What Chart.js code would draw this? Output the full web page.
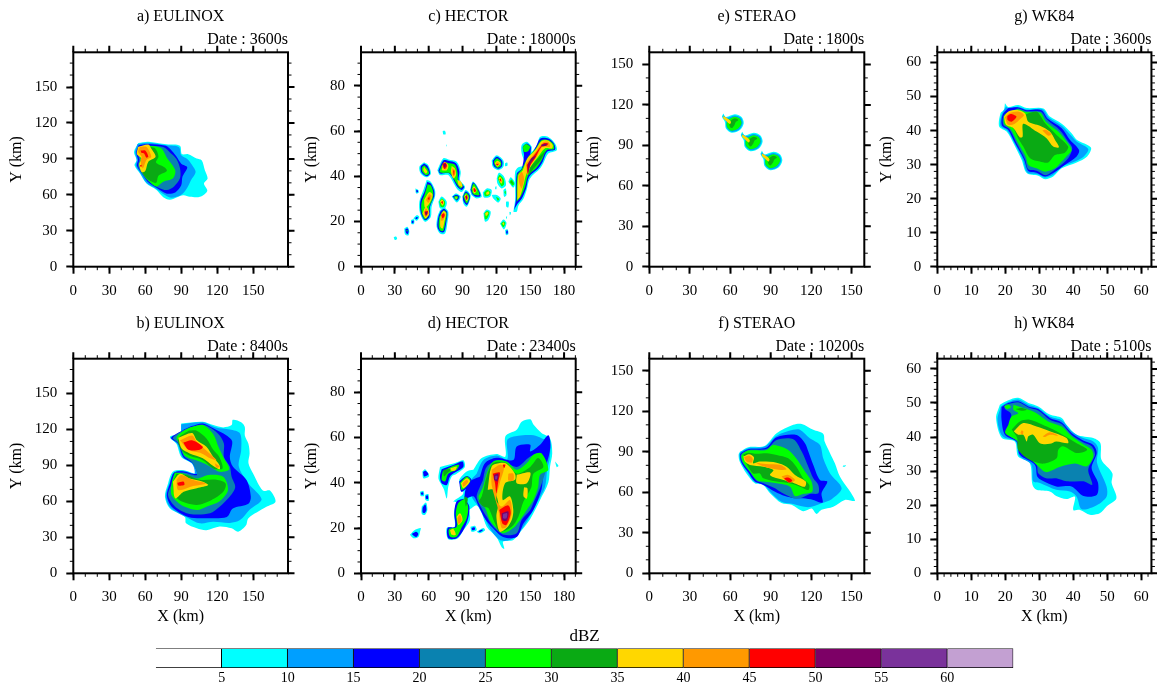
<!DOCTYPE html>
<html>
<head>
<meta charset="utf-8">
<title>Simulated reflectivity</title>
<script src="https://cdn.jsdelivr.net/npm/chart.js@4/dist/chart.umd.min.js"></script>
<style>
  html, body { margin: 0; padding: 0; background: #fff; width: 1157px; height: 686px; overflow: hidden; }
  canvas { position: absolute; display: block; }
</style>
</head>
<body>
<script>
  // Reflectivity classes
  var dbzLevels = [5, 10, 15, 20, 25, 30, 35, 40, 45, 50, 55, 60];
  var binColors = ["#ffffff", "#00ffff", "#009fff", "#0000ff", "#0a82b0", "#00ff00", "#0aaa14",
    "#ffd700", "#ff9900", "#ff0000", "#7d0066", "#7a329b", "#c3a0d2"];
  var binWidths = [5, 5, 5, 5, 5, 5, 5, 5, 5, 5, 5, 5, 5];

  var panelTitles = ["a) EULINOX", "b) EULINOX", "c) HECTOR", "d) HECTOR", "e) STERAO", "f) STERAO", "g) WK84", "h) WK84"];
  var panelDates = ["3600s", "8400s", "18000s", "23400s", "1800s", "10200s", "3600s", "5100s"];

  var ticksEulinox = [0, 30, 60, 90, 120, 150];
  var ticksHectorX = [0, 30, 60, 90, 120, 150, 180];
  var ticksHectorY = [0, 20, 40, 60, 80];
  var ticksSterao = [0, 30, 60, 90, 120, 150];
  var ticksWk84 = [0, 10, 20, 30, 40, 50, 60];

  // Contours: [lower dBZ bound, [x, y, x, y, ...]] in km
  var panelA = [
    [5, [54.2,103.3, 62.5,104.4, 77.8,102.2, 88.9,101, 90.5,94, 95.8,93.9, 102.8,90.3, 107,88.9, 109.7,80.6, 112,73.6, 108.9,69.4, 111.7,63.3, 105.6,58.3, 97.2,58.3, 91.7,59.7, 80.6,56, 75,58, 69.4,64, 61,69.4, 55.6,77.8, 51,84.7, 52.8,88.9, 50.6,95.8]],
    [10, [53.5,102.5, 62,103.5, 77.8,101.5, 88,100, 90,93, 95,90, 99,85, 102,79, 98,72, 95,66, 90,60, 82,57.5, 76,60, 69,65, 61,70, 56,78, 52,84.5, 53,89, 51.5,95.5]],
    [15, [54.5,101.5, 62,102.5, 77,101, 81,98, 86,92, 90,86, 95,83, 91,75, 90,68, 85,62, 78,61, 70,65.5, 62,71, 57,78, 53,84.5, 54,89, 52.5,95.5]],
    [20, [55,100.5, 62,101, 75,100, 81,95, 86,90, 89,82, 89,74, 84,67, 78,64, 71,66, 62,72, 57,78, 54,84.5, 55,89, 53.5,95.5]],
    [25, [56,100, 62,101, 73,99, 78,91, 85,80.5, 83,73.6, 75,71, 69,67, 62,72.5, 58,78, 55,85, 56,89, 55,95]],
    [30, [56.5,99.5, 62,100, 68,99, 71,92, 69,87, 76,83, 78,80, 71,76, 69,70, 62,73, 58,78, 56,85, 57,89, 56,95]],
    [35, [54,100, 62.5,102, 65,98.6, 68.6,91.7, 62.5,87.5, 60,80, 57,79, 55,86, 57,90, 53,94]],
    [40, [55.5,100, 61,100, 65,91.7, 61,89, 58,82, 56,89, 57,91.7, 54,96]],
    [45, [56,97, 60,97, 62.5,92, 61,91, 59,94.5, 57,95]],
    [45, [55.6,84.7, 57,85, 56.5,83]]
  ];

  var panelB = [
    [5, [90,125, 108,126.4, 116.7,123.6, 125,121.7, 132,123.6, 133,128, 140,126, 143,122, 143,115, 146,108, 147,100, 146,92, 150,83, 158,69, 164,69, 168.6,59.7, 161,55.5, 146,46, 144,40, 137.5,34.7, 132,37.5, 122,39, 111,36, 103,37.5, 94,41.7, 93,47, 80.6,54, 76.4,64, 79,75, 83,84.7, 92,86, 103,83, 98.6,91.7, 90,97, 86,108, 80.6,114, 89,116.7]],
    [10, [90,124.4, 108,126, 119,121.7, 130.5,120, 139,116.7, 140,103, 138,89, 146,75, 157,61.7, 147,53, 139,44.4, 130.5,42, 116.7,43, 105.5,41.7, 96,46, 81,54.7, 77,64.4, 80,75, 84,84, 92,85.5, 101,83, 99,91.7, 91,97, 86.7,108, 81,113, 89,116]],
    [15, [98.6,122.8, 108,125, 116.7,121, 127.8,115, 132.5,110, 130.5,97, 133,89, 144.4,77.8, 148,64, 146,58, 133,54, 128,47, 111,46, 96,47, 82,55.5, 78,65, 80.6,75, 84,84, 92,85, 103,83, 99.4,91.7, 91.7,97, 87.5,108, 81.6,113, 90.7,119]],
    [20, [99,122, 108,124, 115,121, 122,115, 125.6,108, 125.6,97, 130.5,89, 132,80.5, 135,72, 130.5,64, 122,55.5, 114,50, 97,49.5, 85,55.5, 79,65, 82,75, 84.7,83, 92,84, 103,82, 99.4,92, 92,98, 88,108, 83,113, 92,119.4]],
    [25, [97,121.7, 108,123.6, 116.7,116, 121,105.5, 125,97, 130,86.7, 122,84.7, 112.5,90, 103,94, 93,98, 89,108, 86,113, 90.7,118]],
    [25, [84.7,84, 92,83, 103,79, 112.5,82, 125,80.5, 129,69.4, 122,60, 111,55.5, 103,52.8, 90,57, 82,65, 82,75]],
    [30, [96,119, 103,119, 111,112.5, 116.7,103, 121.7,97, 124.4,87.5, 116.7,87.5, 108,94.4, 97,98, 90,103, 87.5,112.5]],
    [30, [86,83, 94.4,82, 105.5,78, 119.4,78, 127,75, 125,68, 115,61, 103,57, 90,60, 84.7,65, 83,75]],
    [35, [87.5,113, 99,117, 103,111, 111,105.5, 116.7,97, 122,90, 122,86.7, 116.7,89.4, 108,96, 97,100, 90.3,104]],
    [35, [83,76.4, 89,83, 97,79, 108,76.4, 112.5,73.6, 103,71, 92,68, 85,62.5]],
    [40, [89,111, 99,115, 103,109.7, 112.5,101, 119.4,94.4, 114,96, 107,100, 96,103]],
    [40, [118,91.7, 122,89, 119.4,88]],
    [40, [86,77.8, 90,82, 100,77.8, 110.5,75, 100,72.8, 87.5,69.4]],
    [45, [91.7,109, 99,111, 108,105.5, 105.5,103, 96,103]],
    [45, [86.7,75.5, 92,76.4, 92.5,73.6, 87.5,73.3]]
  ];

  var panelC = [
    // north-east line
    [5, [135,24.3, 136.6,29.5, 136.6,33.9, 136.6,42, 139.5,44, 145.4,45, 142.4,50, 142.4,53.8, 147,55.2, 151.3,53, 151.3,50.8, 156,53.8, 158.7,57.4, 166,57.4, 172,54.5, 173.5,51.5, 166,50, 161.6,45.7, 158.7,43.4, 149.8,39, 146.8,33.9, 144,30, 139.5,27, 138,24.3]],
    [15, [135.6,25, 137.3,29.5, 138,41, 142.4,43.4, 144.5,49.3, 143.4,53, 147,54.5, 150.4,53, 150.4,49.3, 155,53, 159,56.7, 166,56.7, 171,54.5, 172,51.8, 165,50.8, 161,46.4, 157,43.4, 149,39.8, 146.3,34.6, 142.4,30, 138.6,27.7]],
    [25, [138,28.7, 138.6,40.5, 142.4,43, 148.3,48.6, 155,52.3, 160,56, 166,56, 170.5,54.2, 171,52, 164.6,51.5, 160,47, 155,43.4, 148.3,40.5, 145.4,35.3, 141.6,31]],
    [25, [143.4,53, 146.3,54.2, 149.8,53, 148.3,51.2, 144.5,50.8]],
    [30, [150,44, 163,51, 159,47, 153,43.4, 149,40.5]],
    [35, [138.6,29.5, 139.5,40.5, 143.4,42.7, 147.5,47.9, 154.3,51.5, 160,55.5, 166,55.7, 169.9,53.8, 169.3,52.3, 163,52.3, 157,48.6, 151.3,45, 146.8,41.2, 144,36, 141,31]],
    [40, [139.5,39.8, 142.4,42, 144.5,39, 142.4,34.6, 140.4,36.8]],
    [40, [146.3,45.7, 154.3,50.4, 161,54.8, 166,55.2, 167.5,53, 161,53, 155.7,48.6, 149.8,44.2, 147.5,40.5]],
    [45, [146.9,45, 154.3,49.8, 161.6,54.5, 166,54.5, 164.6,53.5, 160,53, 154.3,47.9, 149.8,44.5, 148,41]],
    [50, [148,45.4, 151,47.9, 155,48.9, 150.4,45.7, 148,41.5]],
    [50, [160,54, 164.6,54.5, 164,53.6, 160,53.3]],
    // column near x = 57
    [5, [58.2,38.3, 61.8,37.6, 65.6,33.9, 65.6,31, 62.6,26.5, 61.8,22, 56.7,19.9, 52.3,23.6, 51.7,28.7, 55.3,33.9]],
    [15, [58.8,37.6, 61.8,36.8, 64.8,33.6, 64.8,31, 61.2,26.5, 60.6,22, 56.7,20.6, 53.2,23.6, 52.6,28.7, 56.1,33]],
    [25, [59,36.5, 61.8,36, 64,33, 63.5,30, 60.6,26.5, 60,22.8, 56.7,21, 54,23.6, 53.5,28, 56.7,32.4]],
    [35, [55.9,29.5, 60.6,33, 63.5,31.7, 60.6,28, 56.7,26.2]],
    [35, [54.5,23.6, 57.6,26.5, 60.6,23.6, 57.3,21.4]],
    [40, [57.6,29.5, 60.6,32, 62.6,31.2, 59.7,28.3]],
    [40, [55.6,23.6, 57.6,25.8, 60,23.6, 57.3,22]],
    [45, [59,29.9, 60.6,31, 60.6,29.5]],
    [45, [56.4,24.3, 59.4,24.6, 57.6,22.4]],
    [50, [56.7,24.3, 59,24, 57.6,22.7]],
    // cell near (57, 43)
    [5, [55.9,46.2, 59.7,44.9, 62,41.2, 58.2,39.5, 52.9,41.2, 51.7,44.2]],
    [15, [55.9,45.6, 59,44.5, 61.2,41.2, 58.2,40, 53.8,41.5, 52.9,44.2]],
    [25, [56.1,44.9, 58.8,43.4, 60.3,41.2, 57.6,40.5, 54.4,42, 54,43.9]],
    [35, [55.9,44.2, 58.8,42, 57.6,41.2, 55.3,42.7]],
    // group near (78, 43)
    [5, [67.7,42.7, 73,47.9, 77.4,47.4, 84.8,46.4, 88.4,42, 87.8,38.3, 92.2,35.3, 89.2,33, 84.8,34.6, 77.4,40.5, 70,40.5]],
    [15, [68.6,42.4, 73,47, 77.4,46.8, 84.2,45.7, 87.2,42, 86.6,38.3, 91.3,35.3, 89.2,33.9, 85.4,35.3, 78.3,41.2, 70,41.2]],
    [25, [69.4,42, 73,45.9, 78.9,45.7, 83.6,44.9, 85.7,41.2, 86,38.3, 90.2,36, 88.4,34.6, 84.8,36.8, 78.9,41.2, 71.5,41.5]],
    [35, [71.5,42.7, 73.9,46.4, 77.4,44.9, 76,42.7]],
    [35, [80.4,44.5, 83.3,43.4, 84.2,40.5, 81.9,39, 79.8,42]],
    [35, [85.4,38.3, 88.7,37.6, 89.8,35.3, 86.6,36]],
    [40, [71.5,44.2, 73.9,46, 76.5,44.6, 75,43]],
    [40, [81,43.4, 83.3,42.7, 83,40.5, 81.3,40.5]],
    [45, [72.1,45.4, 75,46, 76.2,44.5, 73.9,43.2]],
    [45, [81.6,42.7, 82.7,42.4, 82.4,40]],
    [50, [73,45.4, 75.4,45.4, 74.2,43.8]],
    // chain of small cells
    [5, [80.4,31, 84.2,32.4, 88.4,31, 85,28.4]],
    [15, [81.3,31, 84.2,31.8, 87.2,31, 85,29.2]],
    [25, [82.2,30.8, 84.2,31.4, 86.3,30.8, 84.5,29.6]],
    [35, [83.3,30.6, 85.4,30.6, 84.2,30]],
    [5, [89.8,31, 92.8,33.9, 97.2,31.7, 96,28.7, 93.7,26.5, 90.7,28]],
    [15, [90.2,31, 92.9,33.3, 96.6,31.4, 95.3,28.5, 93.7,27.3, 90.9,28.9]],
    [25, [90.7,31, 93,32.7, 96,31, 93.7,28]],
    [35, [91.6,31, 93,32, 95.2,30.6, 93.7,29]],
    [45, [92.2,31, 93.7,31.7, 94.6,30.5, 93.4,29.5]],
    [50, [92.8,31, 94,31, 93.4,30]],
    [5, [96.6,33.9, 99,37.6, 102.5,36, 107,31, 102.5,30.2, 98,31.7]],
    [15, [97.2,34, 99.3,37.2, 102.2,35.8, 106,31.4, 102,30.9, 98.7,32]],
    [25, [97.8,34.2, 99.6,36.8, 102,35.6, 105,31.7, 99.6,32]],
    [35, [98.7,34.6, 100.2,35.6, 102.5,33.6, 100.2,32.4]],
    [45, [99.6,34.6, 101,34.6, 102,33.4, 100.2,33.1]],
    [5, [107.9,32.8, 111.4,34.6, 115.8,33.9, 114.4,30.9, 109,30.6]],
    [25, [109,32.7, 112,33.9, 114.7,33, 113.5,31.5, 110,31.2]],
    [35, [110.8,32.7, 112.9,33.4, 113.8,32.4, 111.4,31.8]],
    [5, [115.8,31.7, 120.3,31.7, 123.8,30.2, 121.7,28.4, 117.3,30.2]],
    [25, [119.7,30.9, 122.6,29.9, 121.2,29.2]],
    // cell near (120, 45)
    [5, [115.8,47, 120.3,49.3, 126.2,47, 126.2,44.2, 121.7,42.7, 116.8,44.2]],
    [15, [116.8,46.8, 120.3,48.6, 125,46.8, 125,44.5, 121.7,43.3, 117.7,44.5]],
    [25, [117.7,46.4, 120.3,47.9, 124,46.4, 124,44.6, 121.2,43.7, 118.8,44.8]],
    [35, [118.5,45.7, 120.9,46.8, 123.6,45.7, 121,44.2]],
    [40, [119.4,45.5, 120.9,46.2, 122.6,45.5, 121,44.6]],
    [45, [119.7,45.4, 122,45.4, 120.6,44.8]],
    // cell near (123, 38)
    [5, [120.3,39, 122.3,41.5, 126.8,39.8, 128.5,36, 124.7,34.6, 120.9,36.8]],
    [25, [121.2,39, 122.6,40.6, 126.2,39, 126.8,36.5, 124.4,35.6]],
    [35, [122,39, 123.2,39.8, 125.3,38.3, 124.7,36.8, 123,37.6]],
    [45, [122.6,38.6, 123.8,39, 124.4,37.6]],
    // cell near (111, 23)
    [5, [108.5,23.6, 111.4,25.3, 115,24.3, 112.9,20.6, 110,19.9]],
    [25, [109.3,23.6, 111.7,24.6, 113.8,23.9, 112,21.4, 110,20.9]],
    [35, [110,23.6, 112,24.2, 112.9,23.6, 110.8,22.4]],
    // cells near x = 72
    [5, [68.6,28.7, 71.5,31, 76,28.7, 74.5,25.8, 70,25.8]],
    [25, [69.4,28.7, 71.5,30.2, 74.5,28.7, 73.6,26.5, 70.6,26.5]],
    [35, [70,28.7, 71.8,29.8, 73.6,28.4, 72.1,27]],
    [45, [70.9,28.5, 72.4,29, 72.4,27.7]],
    [5, [70,25, 73.6,26.2, 77.4,24.3, 76.5,19, 74.5,14.7, 70,14.7, 67,17.7, 67.7,22]],
    [15, [70.6,24.6, 73.6,25.6, 76.5,24, 75.4,19, 73.6,15.3, 70.6,15.3, 67.7,17.7, 68.6,22]],
    [25, [71.5,24, 73.6,25, 76,23.6, 74.5,19, 73,15.9, 70.6,15.9, 68.9,17.7, 69.4,21.8]],
    [35, [70.3,22, 73,24.6, 75.4,23.6, 73.9,19.9, 72.4,16.9, 70.3,17.7]],
    [40, [71,22.8, 73,24, 74.9,23.3, 72.9,20.6, 71.2,20.3]],
    [45, [71.2,22.8, 73,23.6, 74.2,22.8, 72.4,21.4]],
    // isolated small cells
    [5, [123.2,19, 126.2,20.9, 129,19.4, 126.8,16.5]],
    [25, [124,19, 126.2,20, 128,19.4, 126.2,17.4]],
    [35, [125,19, 126.5,19.7, 126.8,18.4]],
    [5, [130.6,37.6, 132.7,39.5, 136.6,37, 135,35]],
    [25, [131.5,37.4, 133.3,38.6, 135.9,36.8, 134.2,35.8]],
    [30, [132.4,37.4, 133.6,37.9, 134.8,36.5]],
    [5, [126.2,33.9, 128.2,34.6, 129,31.7, 126.8,30.9]],
    [25, [127,33, 128.2,33.6, 128.2,32]],
    [5, [128.5,28.7, 130.9,28.7, 130.6,26.2, 128.8,26.5]],
    [5, [127.7,16.2, 130,16.5, 130.6,14.3, 128.5,14]],
    [15, [128.8,15.9, 130,15.9, 130,14.7, 128.8,14.7]],
    [5, [131.5,24.3, 133,24, 132,22.7]],
    [5, [128.5,22, 129.5,22.3, 129,21]],
    [5, [127.7,45.7, 129.7,46, 129.7,44.6, 127.7,44.5]],
    [5, [48.2,34.6, 50.8,33.9, 51.1,32.7, 48.8,32.4]],
    [15, [49,34, 50.4,33.7, 50.5,33, 49.2,32.9]],
    [5, [46.4,21.4, 49.4,22.8, 51.7,22, 49.4,20.3]],
    [15, [47.9,21.4, 49.4,22, 50.5,21.7, 49.4,21]],
    [5, [44.3,20.6, 47,20.9, 47,18.9, 44.6,18.9]],
    [15, [45,20.2, 46.5,20.4, 46.4,19.3, 45.1,19.3]],
    [5, [38.4,16.9, 41,17.7, 42.8,15.9, 42,13.8, 39,14.4]],
    [15, [39.3,16.5, 41,17, 42.2,15.9, 41.4,14.4, 39.9,15]],
    [25, [40.2,16.2, 41.4,16.2, 40.8,15.5]],
    [5, [29,13, 31,13.3, 32,12.4, 30,11.8]],
    [5, [72.4,60, 74.5,60, 75,58.6, 73,58.5]],
    [5, [75.4,53.8, 76,54, 75.7,53]],
    [5, [119,35.4, 120,35.6, 120,34.3, 119,34.3]]
  ];

  var panelD = [
    // main system
    [5, [99.6,45.7, 107,50.9, 120,52.7, 128,51.6, 128,60.5, 138,63.4, 142.4,67, 150,68, 153,65.6, 160,62, 167.5,59.7, 169.5,53, 167.5,47, 166,40, 158.7,32.4, 150,24, 142.4,19, 135,14.7, 126,14, 127,10.8, 124.7,11.5, 120,16, 111.4,20.6, 107,26.5, 102.5,30, 95,28, 90.7,31, 82,31.7, 90.7,35.4, 87,41, 93.7,45]],
    [10, [102.5,44, 108.5,50, 120,52, 129.7,50.4, 129.7,59, 139.5,60.8, 153,61, 160,59.7, 167,58, 167.5,51.6, 165,45.7, 163,38, 155.7,31, 147,22.9, 139.5,17.7, 132,14.7, 123,14.7, 114,20, 108.5,25.8, 104,29.5, 98,34, 98,41.3]],
    [15, [105.5,42.8, 110,48.7, 120,51, 135,50, 138,56, 150,56.8, 150,53.8, 158.7,56.8, 166,61, 168,56.8, 166,50.9, 161.6,44, 160,37, 152.8,28, 144,22, 138,16, 126,16, 115.8,20.6, 110,24, 104,30, 99.6,34, 92,33, 95,40]],
    [20, [108,41, 111.4,47, 123,50, 138,47, 150,51.6, 158.7,53, 164.6,47, 163,44, 159,38, 152.8,31, 150,28, 142.4,23.6, 138,17.7, 126.8,17, 117.3,20.6, 111.4,25, 105.5,30, 102.5,34]],
    [25, [104,34, 108,38, 111.4,44, 117.3,49.4, 129,49.4, 138,45.7, 147,48.7, 152.8,52.4, 160,53, 166,45.7, 158.7,43.5, 157,38, 152.8,32.4, 147,28, 141,23.6, 135,20, 126,17.7, 120,20, 114,23.6, 110,28.8, 105.5,31]],
    [30, [104,31.7, 107,34, 111.4,42.8, 117.3,48.7, 129,48.7, 138,44, 150,47, 157,50.9, 161.6,47, 152.8,44, 151,38, 144,31.7, 139.5,25, 133.6,20.6, 123,18.4, 118.8,22, 112.9,28.8, 108.5,29.5]],
    [35, [112.3,36.9, 115.8,47.2, 123,48.7, 129,48.4, 136.5,44, 136.5,41.3, 127.7,39.8, 125.6,32.4, 132,34, 135,28, 133.6,23.6, 129,20, 123,18.4, 120,25, 121.7,31, 117.3,36.9]],
    [35, [138,43.5, 150,44.5, 147,39.8, 138,39.8]],
    [35, [144.5,38, 147.5,37.6, 147,33, 144,34]],
    [40, [115.8,45.7, 123,48, 126.8,47, 123,39.8, 120,32.4, 124.7,29.5, 132,32.4, 133.6,26.5, 129,20.6, 124.7,20, 121.7,28, 115.8,39]],
    [40, [130.6,44, 135,44, 135,41, 130.6,41]],
    [45, [116.8,44, 123,44.5, 121.7,40.6, 120,35.4, 118.8,39.8]],
    [45, [122.6,28, 130.6,30, 132.7,26.5, 129,21.4, 125.3,22]],
    [45, [125.6,48, 128,48, 126.8,46.5]],
    [50, [118,43.5, 121.7,44, 120.9,40.6, 118,41.3]],
    [50, [124.7,26.5, 130.6,27.3, 129.4,23.3, 125.3,23.6]],
    [55, [119,43, 120.9,43, 120.3,41.5, 119,41.6]],
    [55, [126,26.2, 129.4,26.6, 129,24.3, 126,24.3]],
    // north-west cells
    [5, [70,47, 83.3,48.7, 90.7,49.9, 92,47, 84.8,44, 80.4,42.8, 77.4,38.3, 76,33, 73.6,36.9, 71.5,39, 68.6,42]],
    [15, [71.5,46, 83.3,48.2, 90,49.4, 90.7,47, 83.3,44.5, 78.9,42.8, 76,39, 71.5,39.8, 70,42.8]],
    [25, [72.4,45, 81.9,47.5, 87,47.9, 84.8,45.7, 77.4,44, 74.5,40.6, 71.5,41.3]],
    [30, [73,45.7, 80.4,46, 77,44.5, 73.6,42.8]],
    [35, [79.5,46.5, 84.8,47.2, 83.3,45.4, 79.5,45.4]],
    // cell near (92, 40)
    [15, [87,40.6, 93.7,43, 98,41.3, 95,38.3, 89,36]],
    [25, [87.8,40, 93.7,42.8, 97,41, 92,37.6, 89,36.9]],
    [35, [88.6,39.8, 93.7,42, 96.6,40.6, 90.7,37.6]],
    [40, [90,39.8, 93.7,41.3, 95,40.3, 90.7,38.3]],
    // cells south of it
    [5, [92,34, 95,29.5, 96.6,23.6, 90.7,19, 86,15.5, 77.4,15, 76,20, 83,20.6, 82.4,26.5, 84.8,31]],
    [15, [92,33, 96,29.5, 95,24.3, 90.7,19, 84.8,15.5, 77.4,15.5, 76.8,20, 83.3,20.6, 82.7,26.5, 84.8,31.7]],
    [25, [92,33, 95,29.5, 93.7,24.3, 89,20, 84.8,16.2, 79,16.2, 78,19.5, 84.8,20.6, 84,26.5, 86.3,31]],
    [30, [91.6,34, 94.6,33, 93,29.5]],
    [35, [84.8,25, 87.8,26.5, 90,23.6, 86.3,21.4]],
    [40, [85.4,24.3, 87.8,25.8, 89.2,23.3, 86.6,21.8]],
    [35, [78.9,19, 81.9,19.6, 84,17, 80.4,17]],
    // small isolated cells
    [5, [43.4,17, 47.9,19.2, 52.9,20, 52.3,18.4, 50.8,16, 46.4,15.5]],
    [15, [45,17.4, 48.8,18.4, 50.8,17.4, 48.8,16]],
    [5, [54.4,45, 56.7,46, 59.7,44.2, 60.3,42.8, 55.3,42]],
    [15, [55,44.7, 57,45.3, 59.7,43.8, 55.9,42.8]],
    [5, [52.3,36, 55.3,36.4, 55.9,34.2, 52.9,34.2]],
    [15, [53,35.6, 54.8,35.8, 55.2,34.8, 53.4,34.8]],
    [5, [56.7,34.7, 59.7,35, 60,32, 57,32.5]],
    [15, [57.4,34.2, 59.2,34.4, 59.4,32.8, 57.6,33]],
    [5, [53.8,29.5, 57.6,31.3, 58.8,28, 56.7,25.8, 53.8,26.3]],
    [15, [54.6,29, 57,30.4, 58,28, 56.2,26.6, 54.6,27]],
    [5, [97,20.6, 101,21, 102.5,19, 98,18.4]],
    [15, [98,20, 100.6,20.3, 101,19.3, 98.6,19]],
    [5, [102.5,18.4, 108.5,20, 110,19, 105.5,17.7]],
    [15, [104,18.6, 107.5,19.4, 108,19, 105.5,18.2]],
    [5, [172,49.4, 175,47.5, 173.5,46.9]]
  ];

  var panelE = [
    [5, [54.9,113.7, 56.8,111, 63.5,113, 68.4,111, 70,106.3, 67.2,101.3, 61,99.3, 56.8,102.5, 56,107.5, 53.9,111.2]],
    [5, [68.9,100, 70.8,97.3, 77.5,99.3, 82.4,97.3, 84,92.6, 81.2,87.6, 75,85.6, 70.8,88.8, 70,93.8, 67.9,97.5]],
    [5, [83.5,85.9, 85.4,83.2, 92.1,85.2, 97,83.2, 98.6,78.5, 95.8,73.5, 89.6,71.5, 85.4,74.7, 84.6,79.7, 82.5,83.4]],
    [10, [55,112.4, 57.4,110.5, 63.5,112.2, 68,110.5, 69.2,106.3, 66.7,101.8, 61,100, 57.3,103, 56.8,108, 54.4,111.2]],
    [10, [69,98.7, 71.4,96.8, 77.5,98.5, 82,96.8, 83.2,92.6, 80.7,88.1, 75,86.3, 71.3,89.3, 70.8,94.3, 68.4,97.5]],
    [10, [83.6,84.6, 86,82.7, 92.1,84.4, 96.6,82.7, 97.8,78.5, 95.3,74, 89.6,72.2, 85.9,75.2, 85.4,80.2, 83,83.4]],
    [25, [58.6,109.2, 63.5,111.2, 67.2,109.7, 68.4,106.3, 66,102.5, 61,100.8, 57.8,103.3, 57.3,106.3]],
    [25, [72.6,95.5, 77.5,97.5, 81.2,96, 82.4,92.6, 80,88.8, 75,87.1, 71.8,89.6, 71.3,92.6]],
    [25, [87.2,81.4, 92.1,83.4, 95.8,81.9, 97,78.5, 94.6,74.7, 89.6,73, 86.4,75.5, 85.9,78.5]],
    [30, [60.5,108.5, 63.5,110, 66,108.8, 64,107.2, 63,104.8, 61,102.8, 59.4,104.8]],
    [30, [74.5,94.8, 77.5,96.3, 80,95.1, 78,93.5, 77,91.1, 75,89.1, 73.4,91.1]],
    [30, [89.1,80.7, 92.1,82.2, 94.6,81, 92.6,79.4, 91.6,77, 89.6,75, 88,77]],
    [35, [54.9,111.7, 57.8,110, 60.5,107.5, 59.8,105.8, 56.8,108.2, 54.9,110]],
    [35, [68.9,98, 71.8,96.3, 74.5,93.8, 73.8,92.1, 70.8,94.5, 68.9,96.3]],
    [35, [83.5,83.9, 86.4,82.2, 89.1,79.7, 88.4,78, 85.4,80.4, 83.5,82.2]]
  ];

  var panelF = [
    [5, [67.2,90, 73.4,93.4, 85.5,94.4, 94.4,103.8, 106.7,110, 113,110.7, 121.6,106.3, 129,103.3, 130,97.6, 134,89, 137.6,81.5, 141.3,71.7, 152.5,53.9, 145,54.4, 136.4,49.4, 127.7,47, 124,44, 120.3,48, 114,46, 105.5,50.7, 98,52, 89.5,59.3, 84.5,65.5, 78.3,66.7, 72,74, 67,82.8, 66.2,87.7]],
    [5, [143.8,79.8, 145.8,80, 145,79, 143.5,79]],
    [10, [67.7,90, 73.4,92.7, 85.5,93.9, 94.4,102, 106.7,106.3, 111.7,106.3, 119,100, 126.5,95, 129,85, 134,74, 142.6,63, 135.2,54.9, 127.7,51.9, 117.9,49, 106.7,51.4, 98,53, 89.5,60.5, 84.5,66.2, 78.3,67.5, 72.6,74.9, 67.7,82.8, 66.7,87.7]],
    [15, [68.2,89.4, 73.4,92, 86.5,93, 94.4,100.8, 109.2,102.5, 115.4,96.4, 117.9,90.2, 121.6,80.3, 126.5,69.2, 132,68, 127.7,59.3, 128.5,52.4, 121.6,54.4, 114,55.6, 108,55.6, 100.6,57.3, 93.2,60.5, 84.5,65.5, 78.3,68, 73.4,74.9, 68.4,82, 67.2,87.7]],
    [20, [68.7,89, 73.4,91.4, 87,92.2, 94.4,98.8, 106.7,99.3, 113,90.2, 117.9,79, 121.6,70.4, 125.3,65.5, 125.3,59.3, 119,58.8, 111.7,55.6, 106.7,55.6, 98,59.8, 93.2,63, 84.5,66.7, 79.3,68.7, 74.4,75.4, 69.2,82, 67.7,87.2]],
    [25, [69.2,88.5, 73.4,90.9, 87,91.4, 91.9,95, 103,91.4, 109,85, 115.4,75.4, 120.3,68, 120.8,60.5, 114,58.8, 108,57.3, 104.3,64.2, 94.4,66.7, 84.5,68, 79.6,69.2, 74.1,76, 69.7,82, 68.2,86.5]],
    [30, [69.7,88.2, 73.4,89.4, 79.6,88.5, 87,89, 94.4,87.7, 103,85.2, 109,79, 114,70.4, 118.6,65.5, 117.9,61.8, 111.7,64.2, 104.3,66.7, 94.4,68, 84.5,70.4, 82,74, 77,74, 73.4,79, 70.9,84]],
    [35, [69.7,86.5, 74,88.2, 77.6,86, 77,81.5, 82,82.8, 94.4,82, 101.8,79, 108,72.9, 116,68, 115.4,64.2, 110.5,65.5, 104.3,68, 94.7,70.4, 89.5,72.9, 92,76.6, 84.5,79, 74.6,80.3, 70.9,82.8]],
    [40, [70.2,86, 74,87.2, 76.6,84.8, 75.9,82, 72.2,82.8]],
    [40, [79.1,82, 86.5,81, 97.4,80.3, 101.8,77, 98,76.6, 89.5,77.8, 82,80.3]],
    [40, [98,71.7, 103,72.9, 108,69.2, 104.3,67.2, 100.6,69.2]],
    [45, [99.8,70.4, 103,71, 106,68.7, 103.8,67.2]]
  ];

  var panelG = [
    [5, [19.9,48, 20.9,46.9, 23.8,47.5, 26.3,46.6, 31.2,46.5, 33.1,44.1, 36.6,42, 39.5,39.2, 41,37.3, 45.2,35, 44.1,32.4, 41,30.6, 36.6,28.9, 34.1,26.5, 31.7,25.7, 29.7,26.7, 26.3,27.5, 24.8,31.4, 22.4,36.3, 20.4,39.7, 18.2,41.2, 18.6,45.1, 19.6,46.1]],
    [10, [20.2,47, 21.2,46.5, 23.8,47, 26.3,46.2, 30.9,46.3, 32.9,43.8, 36.6,41.4, 39.2,38.7, 41,36.8, 44.4,34.6, 43.1,32.4, 40.5,30.9, 36.6,29.4, 34.1,27, 31.7,26.2, 29.7,27.1, 26.5,27.7, 25.1,31.6, 22.6,36.5, 20.6,40, 18.6,41.4, 18.9,44.6]],
    [15, [20.9,46.6, 23.8,46.8, 26.3,46, 30.6,46, 32.6,43.4, 36.6,40.7, 39,37.3, 41.7,34.3, 41,32.4, 37.5,29.9, 34.1,27.5, 31.7,26.5, 29.2,27.6, 26.8,28.1, 25.5,31.6, 22.8,36.5, 20.9,40.2, 19,41.6, 19.2,44.6]],
    [20, [22.4,46, 23.8,46.5, 26.3,45.7, 30.4,45.6, 32.4,43.1, 36,40.2, 38.5,36.8, 39.7,34.8, 38.5,31.9, 35.1,28.9, 32,26.9, 29.2,28.2, 26.8,28.6, 25.8,31.6, 23.3,36.3, 21.2,40.4, 19.4,41.7, 19.6,44.6]],
    [25, [22.5,45.9, 23.8,46.2, 26.3,45.4, 30.2,45.3, 32,42.6, 35.6,39.7, 38,36.8, 39.5,34.3, 38,32.4, 36.6,30.9, 34.6,28.9, 31.7,27.9, 29.2,28.9, 26.8,29.9, 26,32.4, 23.5,36.8, 21.6,40.4, 19.7,42, 19.9,44.6]],
    [30, [26.8,45.1, 29.2,45.6, 30.4,44.3, 31.7,42.2, 35.1,38.7, 38.5,35.3, 37.5,33.5, 34.6,32.8, 32.6,30.6, 30.2,30.9, 27.3,31.9, 25.3,35.3, 23.8,37.7, 22.4,40.7, 20.4,42.2]],
    [35, [19.6,44.1, 20.9,45.6, 23.8,46, 25.8,45.1, 26.8,42.6, 30.2,41.4, 33.1,39.7, 34.6,37.3, 35.8,35.1, 34.1,35.3, 32.2,37.7, 29.2,39.7, 25.3,42, 25.1,38.2, 24.3,38, 22.4,40.7, 20.2,41.7]],
    [40, [19.9,43.9, 21.2,45.1, 23.8,45.6, 25.5,44.6, 24.3,43.3, 22.8,42, 20.9,41.7]],
    [40, [30.9,40, 32,40.2, 33.6,38.9, 32.6,38.5]],
    [45, [20.6,44.3, 21.6,44.9, 23.3,44.1, 21.9,42.6, 20.7,43.1]]
  ];

  var panelH = [
    [5, [18.4,49.5, 20.9,50.8, 23.8,51.5, 26.8,50, 29.7,49, 33.1,46.6, 36.6,45.6, 38,43.6, 41,40.7, 45.9,39.7, 48,38.2, 48.3,33.3, 51.5,29.4, 51.3,26.5, 52.7,22, 49.8,19.6, 47.8,17.6, 44.9,17.2, 42,18.6, 40,18.6, 40.5,22.5, 38,21.8, 35,22.7, 33.1,24, 29.2,24.5, 28,26, 27.2,32.4, 23.8,34.3, 22.8,38.7, 19,39.7, 17.3,45.6]],
    [10, [18.7,49, 20.9,50.3, 23.8,51, 26.8,49.5, 29.7,48.5, 33.1,46, 36.6,44.9, 39.5,41.7, 42.9,39.7, 45.9,38.7, 47.3,36.8, 47,32.4, 49.8,25.5, 49.8,22.5, 46.9,20, 42.5,18.8, 41,22.5, 39,24, 35,24.5, 30.2,26.5, 28.2,27, 27.7,31.9, 24.1,34.5, 23.1,38.7, 19.2,40.2, 17.7,45]],
    [15, [18.9,48.8, 20.9,50, 23.8,50.5, 26.8,49, 29.7,48.2, 33.1,45.6, 36.6,44.3, 39.5,41.2, 42.9,39, 45.9,37.7, 46.9,35.3, 45.4,30.9, 47.3,26.5, 46.9,23, 43,22.7, 39.5,25.5, 35,25.5, 30.7,27.3, 29.4,28.4, 28.7,31.9, 24.3,34.8, 23.3,38.7, 19.9,40.7, 18.9,45]],
    [20, [19.9,49.5, 20.9,49.7, 23.8,50.2, 26.8,48.7, 29.7,47.8, 33.1,45.1, 36.6,43.8, 39.5,40.7, 42.9,38.5, 45.4,37.3, 46.4,34.8, 44.4,30.4, 45.6,26, 43,27, 38,27, 35,27.9, 32,27.9, 29.7,29.4, 29.2,31.9, 24.8,35.3, 23.5,38.7, 21.2,40.7, 21.8,45, 21.6,47, 19.9,48.2]],
    [25, [22.4,49.5, 26.3,48.2, 29.2,47, 32.6,44.6, 36.6,43.1, 39.5,40.2, 42.9,37.9, 45.4,36.3, 45.9,34.3, 44,31.4, 40.5,32.2, 36,31.2, 32,29.7, 29.7,31.4, 25.3,35.8, 23.8,38.7, 20,41.2, 20.9,43.6, 21.8,46, 23.8,47, 22.4,48]],
    [25, [19.6,49, 20.9,49.5, 21.7,48.8, 20.6,48.2]],
    [30, [23,48.2, 24.8,48.5, 26.3,48, 24.8,47.7]],
    [30, [21.9,42.2, 24.3,44.6, 27.2,45.1, 32.2,43.1, 36,41.2, 41,38.2, 44.1,36.3, 41,35.3, 37,37.3, 35.6,36.3, 35.1,33.8, 31.2,32.2, 27.2,33.3, 23.8,36.3, 23.5,39.7]],
    [35, [22.5,41.7, 25.3,44.1, 29.2,43.1, 33.1,41.7, 38,39.7, 38.5,38.2, 35,38.7, 33.1,38, 30.2,38.2, 28.2,40.7, 26.8,40.2, 26.3,38.7, 25.3,40.7, 23.8,40.7]],
    [40, [24.8,42, 25.3,41.7, 25.1,40.7, 24.5,41.2]],
    [40, [31,40.2, 33.1,41.4, 35.6,40.4, 33.1,40.7, 31.6,40]]
  ];

  var FONT = "'Liberation Serif', 'Times New Roman', serif";
  Chart.defaults.font.family = FONT;
  Chart.defaults.color = "#000";
  Chart.defaults.animation = false;

  // Page layout, in page pixels
  var columns = [
    { left: 0, plotLeft: 73.3, plotRight: 288, yTitle: 17 },
    { left: 296, plotLeft: 361, plotRight: 575.7, yTitle: 312 },
    { left: 580, plotLeft: 649.3, plotRight: 864.3, yTitle: 594 },
    { left: 870, plotLeft: 937.3, plotRight: 1151.7, yTitle: 887 }
  ];
  var rows = [
    { top: 0, height: 300, plotTop: 52.3, plotBottom: 266.7, xTitle: false },
    { top: 306, height: 326, plotTop: 52.7, plotBottom: 267.3, xTitle: true }
  ];

  var axisSetups = [
    { xMax: 179, yMax: 179, xTicks: ticksEulinox, yTicks: ticksEulinox, xMinor: 10, yMinor: 10 },
    { xMax: 190.3, yMax: 94.8, xTicks: ticksHectorX, yTicks: ticksHectorY, xMinor: 10, yMinor: 5 },
    { xMax: 159.4, yMax: 159, xTicks: ticksSterao, yTicks: ticksSterao, xMinor: 10, yMinor: 10 },
    { xMax: 63, yMax: 63, xTicks: ticksWk84, yTicks: ticksWk84, xMinor: 2, yMinor: 2 }
  ];

  function contourDatasets(contours) {
    // Chart.js paints the first dataset last, so the strongest class goes first
    var ordered = contours
      .map(function (c, i) { return { level: c[0], flat: c[1], i: i }; })
      .sort(function (a, b) { return (b.level - a.level) || (b.i - a.i); });

    return ordered.map(function (c) {
      var pts = [];
      for (var k = 0; k < c.flat.length; k += 2) {
        pts.push({ x: c.flat[k], y: c.flat[k + 1] });
      }
      pts.push(pts[0]);
      return {
        data: pts,
        fill: "shape",
        backgroundColor: binColors[dbzLevels.indexOf(c.level) + 1],
        borderWidth: 0,
        pointRadius: 0,
        tension: 0.3
      };
    });
  }

  // Frame, minor ticks and the mirrored major ticks on the top and right sides
  var frameTicks = {
    id: "frameTicks",
    afterDraw: function (chart, args, opts) {
      var ctx = chart.ctx, area = chart.chartArea;
      var xs = chart.scales.x, ys = chart.scales.y;
      var v;

      ctx.save();
      ctx.strokeStyle = "#000";

      ctx.lineWidth = 1;
      ctx.beginPath();
      for (v = 0; v <= xs.max; v += opts.xMinor) {
        var px = xs.getPixelForValue(v);
        ctx.moveTo(px, area.bottom); ctx.lineTo(px, area.bottom + 3.5);
        ctx.moveTo(px, area.top); ctx.lineTo(px, area.top - 3.5);
      }
      for (v = 0; v <= ys.max; v += opts.yMinor) {
        var py = ys.getPixelForValue(v);
        ctx.moveTo(area.left, py); ctx.lineTo(area.left - 3.5, py);
        ctx.moveTo(area.right, py); ctx.lineTo(area.right + 3.5, py);
      }
      ctx.stroke();

      ctx.lineWidth = 2;
      ctx.beginPath();
      xs.ticks.forEach(function (t) {
        var p = xs.getPixelForValue(t.value);
        ctx.moveTo(p, area.top); ctx.lineTo(p, area.top - 6.5);
      });
      ys.ticks.forEach(function (t) {
        var p = ys.getPixelForValue(t.value);
        ctx.moveTo(area.right, p); ctx.lineTo(area.right + 6.5, p);
      });
      ctx.stroke();

      ctx.strokeRect(area.left, area.top, area.right - area.left, area.bottom - area.top);
      ctx.restore();
    }
  };

  function addCanvas(left, top, width, height) {
    var c = document.createElement("canvas");
    c.width = width;
    c.height = height;
    c.style.left = left + "px";
    c.style.top = top + "px";
    c.style.width = width + "px";
    c.style.height = height + "px";
    document.body.appendChild(c);
    return c;
  }

  function drawPanel(index, contours) {
    var col = columns[Math.floor(index / 2)];
    var row = rows[index % 2];
    var setup = axisSetups[Math.floor(index / 2)];

    var width = Math.ceil(Math.min(col.plotRight + 8, 1157) - col.left);
    var canvas = addCanvas(col.left, row.top, width, row.height);

    new Chart(canvas.getContext("2d"), {
      type: "line",
      data: { datasets: contourDatasets(contours) },
      plugins: [frameTicks],
      options: {
        responsive: false,
        events: [],
        layout: {
          padding: {
            top: row.plotTop - 52.3,
            right: width - (col.plotRight - col.left),
            left: 0,
            bottom: 0
          }
        },
        plugins: {
          legend: { display: false },
          tooltip: { enabled: false },
          title: {
            display: true,
            fullSize: false,
            text: panelTitles[index],
            font: { size: 16, weight: "normal" },
            padding: { top: 7.4, bottom: 0 }
          },
          subtitle: {
            display: true,
            fullSize: false,
            align: "end",
            text: "Date : " + panelDates[index],
            font: { size: 16, weight: "normal" },
            color: "#000",
            padding: { top: 3.8, bottom: 2.7 }
          },
          frameTicks: { xMinor: setup.xMinor, yMinor: setup.yMinor }
        },
        scales: {
          x: {
            type: "linear",
            min: 0,
            max: setup.xMax,
            afterFit: function (axis) { axis.height = row.height - row.plotBottom; },
            afterBuildTicks: function (axis) {
              axis.ticks = setup.xTicks.map(function (v) { return { value: v }; });
            },
            grid: { drawOnChartArea: false, tickLength: 7, tickWidth: 2, tickColor: "#000" },
            border: { display: false },
            ticks: {
              font: { size: 15 },
              padding: 8,
              maxRotation: 0,
              autoSkip: false,
              callback: function (v) { return v; }
            },
            title: {
              display: row.xTitle,
              text: "X (km)",
              font: { size: 16 },
              padding: { top: 0, bottom: 5.4 }
            }
          },
          y: {
            type: "linear",
            min: 0,
            max: setup.yMax,
            afterFit: function (axis) { axis.width = col.plotLeft - col.left; },
            afterBuildTicks: function (axis) {
              axis.ticks = setup.yTicks.map(function (v) { return { value: v }; });
            },
            grid: { drawOnChartArea: false, tickLength: 7, tickWidth: 2, tickColor: "#000" },
            border: { display: false },
            ticks: {
              font: { size: 15 },
              padding: 9,
              autoSkip: false,
              callback: function (v) { return v; }
            },
            title: {
              display: true,
              text: "Y (km)",
              font: { size: 16 },
              padding: { top: col.yTitle - col.left - 9.6, bottom: 0 }
            }
          }
        }
      }
    });
  }

  function drawColorbar() {
    var canvas = addCanvas(140, 625, 900, 61);

    new Chart(canvas.getContext("2d"), {
      type: "bar",
      data: {
        labels: ["dBZ"],
        datasets: binWidths.map(function (w, i) {
          return {
            data: [w],
            backgroundColor: binColors[i],
            borderColor: "#000",
            borderWidth: 1,
            barPercentage: 1,
            categoryPercentage: 1
          };
        })
      },
      options: {
        indexAxis: "y",
        responsive: false,
        events: [],
        layout: { padding: { left: 15.7, right: 26.7, top: 0, bottom: 0 } },
        plugins: {
          legend: { display: false },
          tooltip: { enabled: false },
          title: {
            display: true,
            text: "dBZ",
            font: { size: 17, weight: "normal" },
            padding: { top: 1, bottom: 2 }
          }
        },
        scales: {
          x: {
            stacked: true,
            min: 0,
            max: 65,
            afterFit: function (axis) { axis.height = 18; },
            afterBuildTicks: function (axis) {
              axis.ticks = dbzLevels.map(function (v) { return { value: v }; });
            },
            grid: { display: false, drawTicks: false },
            border: { display: false },
            ticks: { font: { size: 14 }, padding: 2, maxRotation: 0, autoSkip: false }
          },
          y: { stacked: true, display: false }
        }
      }
    });
  }

  [panelA, panelB, panelC, panelD, panelE, panelF, panelG, panelH].forEach(function (contours, i) {
    drawPanel(i, contours);
  });
  drawColorbar();
</script>
</body>
</html>
